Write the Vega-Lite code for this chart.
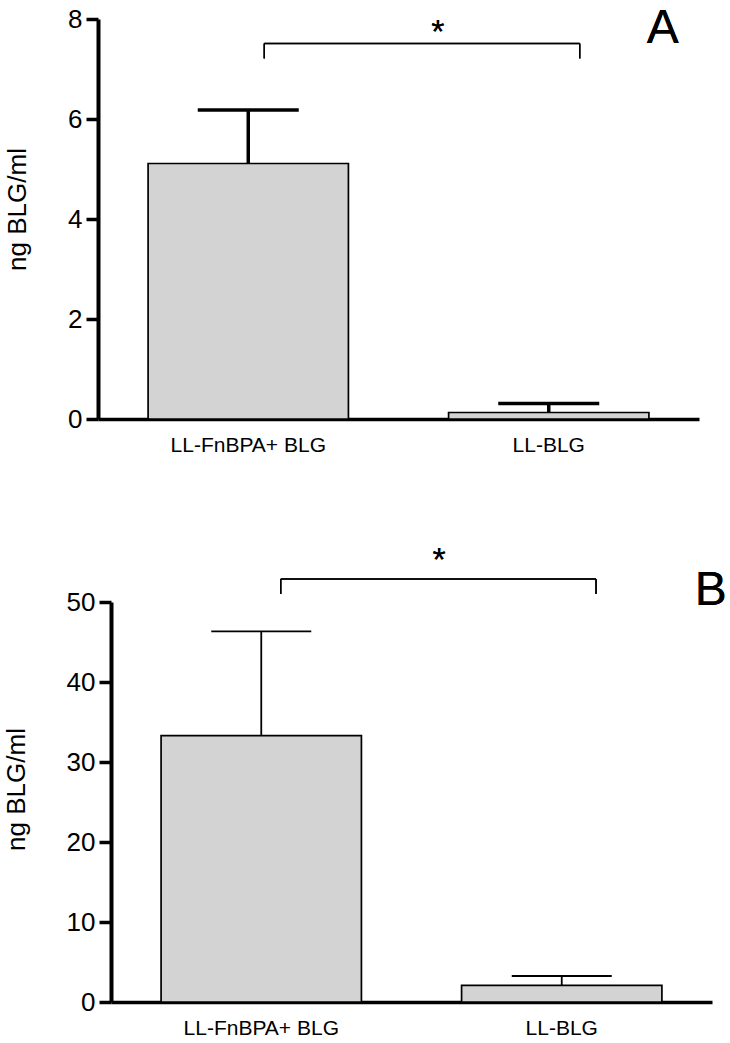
{
  "$schema": "https://vega.github.io/schema/vega-lite/v6.json",
  "padding": {"left": 3, "top": 5, "right": 2, "bottom": 0},
  "config": {
    "font": "Liberation Sans",
    "view": {"stroke": null},
    "axis": {"grid": false, "domainColor": "black", "tickColor": "black", "labelColor": "black", "titleColor": "black", "labelFont": "Liberation Sans", "titleFont": "Liberation Sans", "titleFontWeight": "normal"}
  },
  "datasets": {
    "a": [
      {"group": "LL-FnBPA+ BLG", "mean": 5.11, "upper": 6.18},
      {"group": "LL-BLG", "mean": 0.13, "upper": 0.31}
    ],
    "b": [
      {"group": "LL-FnBPA+ BLG", "mean": 33.3, "upper": 46.34},
      {"group": "LL-BLG", "mean": 2.09, "upper": 3.25}
    ]
  },
  "spacing": 88,
  "vconcat": [
    {
      "width": 601,
      "height": 400,
      "data": {"name": "a"},
      "layer": [
        {
          "mark": {"type": "bar", "fill": "#d3d3d3", "stroke": "black", "strokeWidth": 1.7},
          "encoding": {
            "x": {"field": "group", "type": "nominal", "sort": null,
              "scale": {"paddingInner": 0.3333, "paddingOuter": 0.1667},
              "axis": {"title": null, "labelAngle": 0, "ticks": false, "domainWidth": 3.5, "labelFontSize": 21, "labelPadding": 15}},
            "y": {"field": "mean", "type": "quantitative",
              "scale": {"domain": [0, 8], "nice": false},
              "axis": {"title": "ng BLG/ml", "values": [0, 2, 4, 6, 8], "domainWidth": 4, "tickWidth": 3.5, "tickSize": 12, "labelPadding": 4, "labelFontSize": 26, "titleFontSize": 26, "titlePadding": 37, "titleY": 190}}
          }
        },
        {
          "mark": {"type": "rule", "strokeWidth": 3.5, "color": "black"},
          "encoding": {
            "x": {"field": "group", "type": "nominal", "sort": null},
            "y": {"field": "mean", "type": "quantitative"},
            "y2": {"field": "upper"}
          }
        },
        {
          "mark": {"type": "tick", "size": 101, "thickness": 3.5, "color": "black", "opacity": 1},
          "encoding": {
            "x": {"field": "group", "type": "nominal", "sort": null},
            "y": {"field": "upper", "type": "quantitative"}
          }
        },
        {
          "mark": {"type": "rule", "strokeWidth": 1.5, "color": "black", "xOffset": 16, "x2Offset": 31},
          "encoding": {
            "x": {"datum": "LL-FnBPA+ BLG", "type": "nominal"},
            "x2": {"datum": "LL-BLG"},
            "y": {"datum": 7.51, "type": "quantitative"}
          }
        },
        {
          "mark": {"type": "rule", "strokeWidth": 1.5, "color": "black", "xOffset": 16},
          "encoding": {
            "x": {"datum": "LL-FnBPA+ BLG", "type": "nominal"},
            "y": {"datum": 7.51, "type": "quantitative"},
            "y2": {"datum": 7.21}
          }
        },
        {
          "mark": {"type": "rule", "strokeWidth": 1.5, "color": "black", "xOffset": 31},
          "encoding": {
            "x": {"datum": "LL-BLG", "type": "nominal"},
            "y": {"datum": 7.51, "type": "quantitative"},
            "y2": {"datum": 7.21}
          }
        },
        {
          "mark": {"type": "text", "text": "*", "fontSize": 34, "dx": -111, "baseline": "alphabetic", "align": "center", "color": "black"},
          "encoding": {
            "x": {"datum": "LL-BLG", "type": "nominal"},
            "y": {"datum": 7.53, "type": "quantitative"}
          }
        },
        {
          "mark": {"type": "text", "text": "A", "fontSize": 48, "dx": 114, "baseline": "alphabetic", "align": "center", "color": "black"},
          "encoding": {
            "x": {"datum": "LL-BLG", "type": "nominal"},
            "y": {"datum": 7.52, "type": "quantitative"}
          }
        }
      ]
    },
    {
      "width": 614,
      "height": 400,
      "data": {"name": "b"},
      "layer": [
        {
          "mark": {"type": "bar", "fill": "#d3d3d3", "stroke": "black", "strokeWidth": 1.7},
          "encoding": {
            "x": {"field": "group", "type": "nominal", "sort": null,
              "scale": {"range": [13, 614], "paddingInner": 0.3333, "paddingOuter": 0.1667},
              "axis": {"title": null, "labelAngle": 0, "ticks": false, "domainWidth": 3.5, "labelFontSize": 21, "labelPadding": 15}},
            "y": {"field": "mean", "type": "quantitative",
              "scale": {"domain": [0, 50], "nice": false},
              "axis": {"title": "ng BLG/ml", "offset": -13, "values": [0, 10, 20, 30, 40, 50], "domainWidth": 4, "tickWidth": 3.5, "tickSize": 12, "labelPadding": 4, "labelFontSize": 26, "titleFontSize": 26, "titlePadding": 37, "titleY": 187}}
          }
        },
        {
          "mark": {"type": "rule", "strokeWidth": 1.8, "color": "black"},
          "encoding": {
            "x": {"field": "group", "type": "nominal", "sort": null},
            "y": {"field": "mean", "type": "quantitative"},
            "y2": {"field": "upper"}
          }
        },
        {
          "mark": {"type": "tick", "size": 100, "thickness": 1.8, "color": "black", "opacity": 1},
          "encoding": {
            "x": {"field": "group", "type": "nominal", "sort": null},
            "y": {"field": "upper", "type": "quantitative"}
          }
        },
        {
          "mark": {"type": "rule", "strokeWidth": 1.5, "color": "black", "xOffset": 19.5, "x2Offset": 34.3},
          "encoding": {
            "x": {"datum": "LL-FnBPA+ BLG", "type": "nominal"},
            "x2": {"datum": "LL-BLG"},
            "y": {"datum": 52.89, "type": "quantitative"}
          }
        },
        {
          "mark": {"type": "rule", "strokeWidth": 1.5, "color": "black", "xOffset": 19.5},
          "encoding": {
            "x": {"datum": "LL-FnBPA+ BLG", "type": "nominal"},
            "y": {"datum": 52.89, "type": "quantitative"},
            "y2": {"datum": 51.01}
          }
        },
        {
          "mark": {"type": "rule", "strokeWidth": 1.5, "color": "black", "xOffset": 34.3},
          "encoding": {
            "x": {"datum": "LL-BLG", "type": "nominal"},
            "y": {"datum": 52.89, "type": "quantitative"},
            "y2": {"datum": 51.01}
          }
        },
        {
          "mark": {"type": "text", "text": "*", "fontSize": 34, "dx": -122.7, "baseline": "alphabetic", "align": "center", "color": "black"},
          "encoding": {
            "x": {"datum": "LL-BLG", "type": "nominal"},
            "y": {"datum": 53.88, "type": "quantitative"}
          }
        },
        {
          "mark": {"type": "text", "text": "B", "fontSize": 48, "dx": 149, "baseline": "alphabetic", "align": "center", "color": "black"},
          "encoding": {
            "x": {"datum": "LL-BLG", "type": "nominal"},
            "y": {"datum": 49.67, "type": "quantitative"}
          }
        }
      ]
    }
  ]
}
